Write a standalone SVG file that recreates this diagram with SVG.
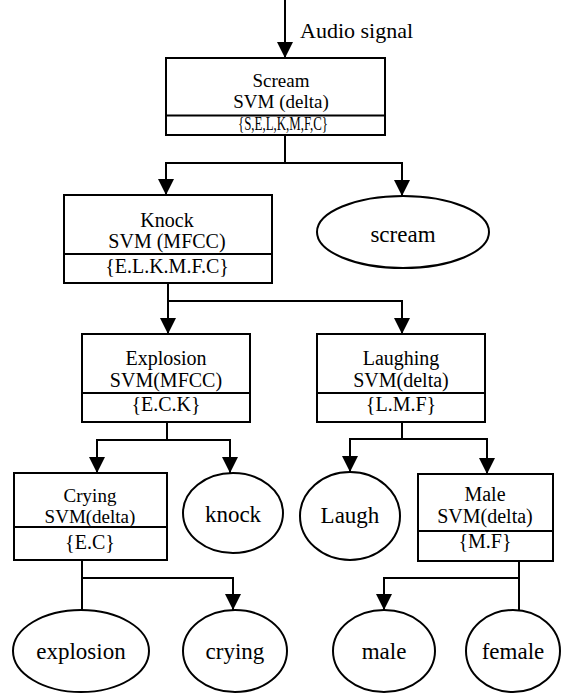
<svg xmlns="http://www.w3.org/2000/svg" width="562" height="695" viewBox="0 0 562 695">
<style>
.box{fill:#fff;stroke:#000;stroke-width:2}
.ell{fill:#fff;stroke:#000;stroke-width:2}
.t{font-family:'Liberation Serif','Tinos','Times New Roman','DejaVu Serif',serif;font-size:20px;fill:#000;text-anchor:middle}
.e{font-family:'Liberation Serif','Tinos','Times New Roman','DejaVu Serif',serif;font-size:23px;fill:#000;text-anchor:middle}
.c{fill:none;stroke:#000;stroke-width:2}
</style>
<defs>
<marker id="ah" markerWidth="16" markerHeight="16" viewBox="0 0 16 16" refX="16" refY="8" orient="auto" markerUnits="userSpaceOnUse">
<path d="M0,0 L16,8 L0,16 Z" fill="#000"/>
</marker>
</defs>
<g id="connectors">
<line class="c" x1="285" y1="0" x2="285" y2="58" marker-end="url(#ah)"/>
<polyline class="c" points="285,135 285,163 166,163 166,195" marker-end="url(#ah)"/>
<polyline class="c" points="285,163 402,163 402,196" marker-end="url(#ah)"/>
<polyline class="c" points="168,283 168,301 168,334" marker-end="url(#ah)"/>
<polyline class="c" points="168,301 402,301 402,334" marker-end="url(#ah)"/>
<polyline class="c" points="167,422 167,440 97,440 97,473" marker-end="url(#ah)"/>
<polyline class="c" points="167,440 230,440 230,473" marker-end="url(#ah)"/>
<polyline class="c" points="402,422 402,439 350,439 350,472" marker-end="url(#ah)"/>
<polyline class="c" points="402,439 487,439 487,474" marker-end="url(#ah)"/>
<polyline class="c" points="82,560 82,610"/>
<polyline class="c" points="82,578 233,578 233,610" marker-end="url(#ah)"/>
<polyline class="c" points="519,561 519,610"/>
<polyline class="c" points="519,578 384,578 384,610" marker-end="url(#ah)"/>
</g>
<text class="t" x="300" y="38" style="text-anchor:start;font-size:22px">Audio signal</text>
<g id="scream-box">
<rect class="box" x="166" y="58" width="219" height="77"/>
<line class="c" x1="166" y1="115.5" x2="385" y2="115.5"/>
<text class="t" x="281" y="87" style="font-size:19px">Scream</text>
<text class="t" x="281" y="108" style="font-size:19px">SVM (delta)</text>
<text class="t" x="283" y="130" style="font-size:18px" textLength="90" lengthAdjust="spacingAndGlyphs">{S,E,L,K,M,F,C}</text>
</g>
<g id="knock-box">
<rect class="box" x="64" y="195" width="208" height="88"/>
<line class="c" x1="64" y1="254" x2="272" y2="254"/>
<text class="t" x="167" y="227">Knock</text>
<text class="t" x="167" y="248">SVM (MFCC)</text>
<text class="t" x="167" y="273">{E.L.K.M.F.C}</text>
</g>
<g id="scream-leaf">
<ellipse class="ell" cx="403" cy="232" rx="86" ry="36"/>
<text class="e" x="403" y="242">scream</text>
</g>
<g id="explosion-box">
<rect class="box" x="82" y="334" width="168" height="88"/>
<line class="c" x1="82" y1="393" x2="250" y2="393"/>
<text class="t" x="166" y="365">Explosion</text>
<text class="t" x="166" y="387">SVM(MFCC)</text>
<text class="t" x="166" y="411">{E.C.K}</text>
</g>
<g id="laughing-box">
<rect class="box" x="317" y="334" width="168" height="88"/>
<line class="c" x1="317" y1="393" x2="485" y2="393"/>
<text class="t" x="401" y="365">Laughing</text>
<text class="t" x="401" y="387">SVM(delta)</text>
<text class="t" x="401" y="411">{L.M.F}</text>
</g>
<g id="crying-box">
<rect class="box" x="14" y="473" width="153" height="87"/>
<line class="c" x1="14" y1="527" x2="167" y2="527"/>
<text class="t" x="90" y="502" style="font-size:19px">Crying</text>
<text class="t" x="90" y="523" style="font-size:19px">SVM(delta)</text>
<text class="t" x="90" y="549">{E.C}</text>
</g>
<g id="knock-leaf">
<ellipse class="ell" cx="233" cy="513" rx="50" ry="40"/>
<text class="e" x="233" y="522">knock</text>
</g>
<g id="laugh-leaf">
<ellipse class="ell" cx="350" cy="516" rx="50" ry="44"/>
<text class="e" x="350" y="523">Laugh</text>
</g>
<g id="male-box">
<rect class="box" x="418" y="474" width="135" height="87"/>
<line class="c" x1="418" y1="531" x2="553" y2="531"/>
<text class="t" x="485" y="501">Male</text>
<text class="t" x="485" y="523">SVM(delta)</text>
<text class="t" x="485" y="548">{M.F}</text>
</g>
<g id="explosion-leaf">
<ellipse class="ell" cx="81" cy="651" rx="68" ry="41"/>
<text class="e" x="81" y="659">explosion</text>
</g>
<g id="crying-leaf">
<ellipse class="ell" cx="235" cy="651" rx="52" ry="41"/>
<text class="e" x="235" y="659">crying</text>
</g>
<g id="male-leaf">
<ellipse class="ell" cx="384" cy="651" rx="51" ry="41"/>
<text class="e" x="384" y="659">male</text>
</g>
<g id="female-leaf">
<ellipse class="ell" cx="513" cy="651" rx="47" ry="41"/>
<text class="e" x="513" y="659">female</text>
</g>
</svg>
